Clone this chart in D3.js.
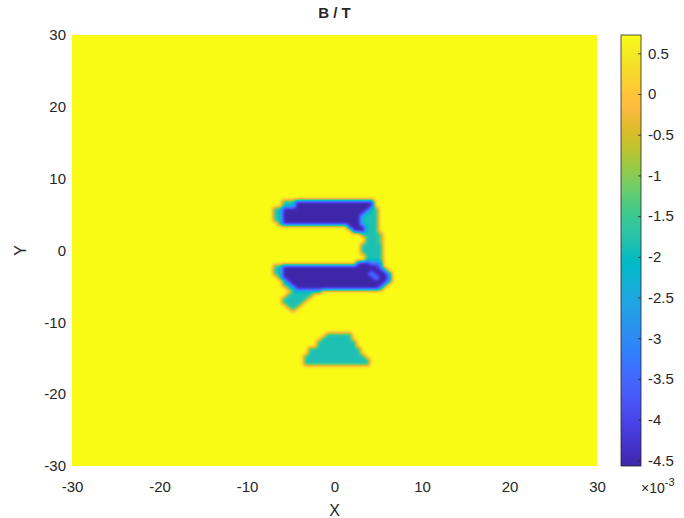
<!DOCTYPE html>
<html>
<head>
<meta charset="utf-8">
<script src="https://cdn.jsdelivr.net/npm/d3@7/dist/d3.min.js"></script>
<style>
  body { margin: 0; background: #ffffff; }
  text { font-family: "Liberation Sans", Arial, Helvetica, sans-serif; fill: #262626; }
</style>
</head>
<body>
<svg id="chart" width="684" height="518"></svg>
<script>
// Field B / T sampled on a 0.5-unit grid around the feature; everything
// outside this window holds the background level.
const xNodes = [-7.75,-7.25,-6.75,-6.25,-5.75,-5.25,-4.75,-4.25,-3.75,-3.25,-2.75,-2.25,-1.75,-1.25,-0.75,-0.25,
                0.25,0.75,1.25,1.75,2.25,2.75,3.25,3.75,4.25,4.75,5.25,5.75,6.25,6.75,7.25,7.75];
const yNodes = [7.75,7.25,6.75,6.25,5.75,5.25,4.75,4.25,3.75,3.25,2.75,2.25,1.75,1.25,0.75,0.25,
                -0.25,-0.75,-1.25,-1.75,-2.25,-2.75,-3.25,-3.75,-4.25,-4.75,-5.25,-5.75,-6.25,-6.75,-7.25,-7.75,
                -8.25,-8.75,-9.25,-9.75,-10.25,-10.75,-11.25,-11.75,-12.25,-12.75,-13.25,-13.75,-14.25,-14.75,
                -15.25,-15.75,-16.25];

// value of each grid code
const background = 0.725e-3;
const levelValues = { ".": background, "B": -4.57e-3, "M": -3.2e-3, "S": -2.6e-3, "C": -1.85e-3, "G": -1.3e-3 };

// one string per y node (top to bottom), one character per x node
const fieldRows = [
  "................................",
  "................................",
  "....CCCBBBBBBBBBBBBBBBBBB.......",
  "....CCCBBBBBBBBBBBBBBBBBB.......",
  "..CCBBBBBBBBBBBBBBBBBBBBCC......",
  "..CCBBBBBBBBBBBBBBBBBBBCCC......",
  "..CCBBBBBBBBBBBBBBBBBBCCCC......",
  "..CCBBBBBBBBBBBBBBBBBBCCCC......",
  "...CBBBBBBBBBBBBBBBBBBCCCC......",
  "...................BBBBCCC......",
  "....................BBBCCC......",
  "......................CCCCG.....",
  ".......................CCCG.....",
  ".......................CCCG.....",
  "......................CCCCC.....",
  "......................CCCCC.....",
  "......................CCCCC.....",
  ".......................CCCC.....",
  ".......................CCCC.....",
  ".....................BBBMMM.....",
  "..CCBBBBBBBBBBBBBBBBBBBBBBM.....",
  "..CCBBBBBBBBBBBBBBBBBBBBBBBM....",
  "..CCBBBBBBBBBBBBBBBBBBBBSBBBM...",
  "...CBBBBBBBBBBBBBBBBBBBBBSBBM...",
  "....CBBBBBBBBBBBBBBBBBBBBBBBM...",
  "....CCBBBBBBBBBBBBBBBBBBBBBM....",
  ".....CCBBBBBBBBBBBBBBBBBBBM.....",
  "......CCCCCCC...................",
  ".....CCCCCC.....................",
  "....CCCCCC......................",
  "....CCCCC.......................",
  ".....CCC........................",
  "......C.........................",
  "................................",
  "................................",
  "................................",
  "................................",
  "................................",
  "................................",
  "..............CCCCCC............",
  ".............CCCCCCC............",
  "............CCCCCCCCC...........",
  "............CCCCCCCCC...........",
  "..........CCCCCCCCCCCC..........",
  "..........CCCCCCCCCCCC..........",
  ".........CCCCCCCCCCCCCC.........",
  ".........CCCCCCCCCCCCCCC........",
  ".........CCCCCCCCCCCCCCC........",
  "................................"
];

const xTicks = [-30, -20, -10, 0, 10, 20, 30];
const yTicks = [-30, -20, -10, 0, 10, 20, 30];
const colorTicks = [0.5e-3, 0, -0.5e-3, -1e-3, -1.5e-3, -2e-3, -2.5e-3, -3e-3, -3.5e-3, -4e-3, -4.5e-3];

// parula colormap, 64 entries
const parula = ["#3e26a8","#402ab4","#422ec0","#4432cb","#4537d5","#463cde","#4741e5","#4847eb",
  "#484df0","#4852f4","#4758f8","#465efb","#4563fd","#4269fe","#3e6fff","#3875fe",
  "#327cfc","#2f81fa","#2e87f7","#2d8cf3","#2b91ef","#2797eb","#259be8","#23a0e5",
  "#20a5e3","#1ca9e0","#18addb","#12b1d6","#08b5d0","#01b8ca","#02bbc3","#0bbdbd",
  "#19bfb6","#24c1af","#2cc4a7","#31c69f","#37c897","#3fca8e","#4acb84","#57cc7a",
  "#64cd6f","#72cd64","#81cc59","#8fcb4e","#9dc943","#abc739","#b9c431","#c5c22a",
  "#d1bf27","#dcbd29","#e6bb2d","#f0ba36","#f8ba3d","#febe3d","#fec338","#fec934",
  "#fcd030","#fad62d","#f7dc2a","#f5e327","#f5e924","#f6ef20","#f7f51b","#f9fb15"];

const W = 684, H = 518;
const plot = { left: 72, top: 35, right: 597, bottom: 466 };
const cbar = { left: 621, width: 20 };
const FONT = "'Liberation Sans', Arial, sans-serif";

const svg = d3.select("#chart");
svg.append("rect").attr("width", W).attr("height", H).attr("fill", "#ffffff");

const x = d3.scaleLinear().domain([-30, 30]).range([plot.left, plot.right]);
const y = d3.scaleLinear().domain([-30, 30]).range([plot.bottom, plot.top]);

// numeric grid
const grid = fieldRows.map(r => xNodes.map((_, i) => levelValues[r[i] || "."] ?? background));
const vmin = d3.min(grid, r => d3.min(r));
const vmax = d3.max(grid, r => d3.max(r));

const color = d3.scaleLinear()
  .domain(parula.map((_, i) => vmin + (vmax - vmin) * i / (parula.length - 1)))
  .range(parula)
  .interpolate(d3.interpolateRgb)
  .clamp(true);

// lookup table for speed
const LUT_N = 1024;
const lut = d3.range(LUT_N).map(i => d3.rgb(color(vmin + (vmax - vmin) * i / (LUT_N - 1))));

const colIdx = d3.scaleLinear().domain([xNodes[0], xNodes[xNodes.length - 1]]).range([0, xNodes.length - 1]);
const rowIdx = d3.scaleLinear().domain([yNodes[0], yNodes[yNodes.length - 1]]).range([0, yNodes.length - 1]);

function valueAt(dx, dy) {
  const fx = colIdx(dx), fy = rowIdx(dy);
  const nx = xNodes.length, ny = yNodes.length;
  if (fx < 0 || fy < 0 || fx > nx - 1 || fy > ny - 1) return background;
  const i0 = Math.floor(fx), j0 = Math.floor(fy);
  const i1 = Math.min(i0 + 1, nx - 1), j1 = Math.min(j0 + 1, ny - 1);
  const tx = fx - i0, ty = fy - j0;
  return grid[j0][i0] * (1 - tx) * (1 - ty) + grid[j0][i1] * tx * (1 - ty)
       + grid[j1][i0] * (1 - tx) * ty + grid[j1][i1] * tx * ty;
}

// interpolated shading: sample the field at every pixel
const pw = plot.right - plot.left, ph = plot.bottom - plot.top;
let vals = new Float64Array(pw * ph);
for (let py = 0; py < ph; py++) {
  const dy = y.invert(plot.top + py + 0.5);
  for (let px = 0; px < pw; px++) {
    vals[py * pw + px] = valueAt(x.invert(plot.left + px + 0.5), dy);
  }
}

// light gaussian smoothing of the sampled values (separable)
function smooth(src, sigma) {
  const r = Math.ceil(sigma * 2.5);
  const k = d3.range(-r, r + 1).map(t => Math.exp(-t * t / (2 * sigma * sigma)));
  const ks = d3.sum(k);
  const tmp = new Float64Array(src.length), out = new Float64Array(src.length);
  for (let py = 0; py < ph; py++) {
    for (let px = 0; px < pw; px++) {
      let s = 0;
      for (let t = -r; t <= r; t++) {
        const qx = Math.min(pw - 1, Math.max(0, px + t));
        s += src[py * pw + qx] * k[t + r];
      }
      tmp[py * pw + px] = s / ks;
    }
  }
  for (let py = 0; py < ph; py++) {
    for (let px = 0; px < pw; px++) {
      let s = 0;
      for (let t = -r; t <= r; t++) {
        const qy = Math.min(ph - 1, Math.max(0, py + t));
        s += tmp[qy * pw + px] * k[t + r];
      }
      out[py * pw + px] = s / ks;
    }
  }
  return out;
}
vals = smooth(vals, 1.5);

const canvas = document.createElement("canvas");
canvas.width = pw; canvas.height = ph;
const ctx = canvas.getContext("2d");
const img = ctx.createImageData(pw, ph);
for (let p = 0; p < pw * ph; p++) {
  let li = Math.round((vals[p] - vmin) / (vmax - vmin) * (LUT_N - 1));
  li = Math.max(0, Math.min(LUT_N - 1, li));
  const c = lut[li];
  img.data[p * 4] = c.r; img.data[p * 4 + 1] = c.g; img.data[p * 4 + 2] = c.b; img.data[p * 4 + 3] = 255;
}
ctx.putImageData(img, 0, 0);
svg.append("image")
  .attr("x", plot.left).attr("y", plot.top)
  .attr("width", pw).attr("height", ph)
  .attr("href", canvas.toDataURL());

// axes: only the tick labels are visible around the surface
const fmt = d => String(d);
const xAxis = svg.append("g")
  .attr("transform", `translate(0,${plot.bottom})`)
  .call(d3.axisBottom(x).tickValues(xTicks).tickSize(0).tickPadding(15).tickFormat(fmt));
const yAxis = svg.append("g")
  .attr("transform", `translate(${plot.left},0)`)
  .call(d3.axisLeft(y).tickValues(yTicks).tickSize(0).tickPadding(6).tickFormat(fmt));
[xAxis, yAxis].forEach(g => {
  g.select(".domain").remove();
  g.selectAll("text").attr("font-size", 15).attr("fill", "#262626").style("font-family", FONT);
});

// titles
svg.append("text").attr("x", (plot.left + plot.right) / 2).attr("y", 18)
  .attr("text-anchor", "middle").attr("font-size", 15).attr("font-weight", "bold")
  .attr("fill", "#000").text("B / T");
svg.append("text").attr("x", (plot.left + plot.right) / 2).attr("y", 516)
  .attr("text-anchor", "middle").attr("font-size", 16).text("X");
svg.append("text").attr("transform", `translate(26,${(plot.top + plot.bottom) / 2}) rotate(-90)`)
  .attr("text-anchor", "middle").attr("font-size", 16).text("Y");

// colorbar
const cy = d3.scaleLinear().domain([vmin, vmax]).range([plot.bottom, plot.top]);
const grad = svg.append("defs").append("linearGradient")
  .attr("id", "cbgrad").attr("x1", 0).attr("y1", 1).attr("x2", 0).attr("y2", 0);
grad.selectAll("stop").data(parula).join("stop")
  .attr("offset", (d, i) => i / (parula.length - 1))
  .attr("stop-color", d => d);
svg.append("rect")
  .attr("x", cbar.left).attr("y", cy(vmax))
  .attr("width", cbar.width).attr("height", cy(vmin) - cy(vmax))
  .attr("fill", "url(#cbgrad)")
  .attr("stroke", "#262626").attr("stroke-width", 0.8);
const cAxis = svg.append("g")
  .attr("transform", `translate(${cbar.left + cbar.width},0)`)
  .call(d3.axisRight(cy).tickValues(colorTicks).tickSize(-3).tickPadding(7)
    .tickFormat(d => String(Math.round(d * 1e4) / 10)));
cAxis.select(".domain").remove();
cAxis.selectAll("line").attr("stroke", "#262626").attr("stroke-width", 0.8);
cAxis.selectAll("text").attr("font-size", 15).attr("fill", "#262626").style("font-family", FONT);

// exponent label
const expo = svg.append("text").attr("x", 641).attr("y", 493).attr("font-size", 14);
expo.append("tspan").text("\u00d710");
expo.append("tspan").attr("dy", -7).attr("font-size", 11).text("-3");
</script>
</body>
</html>
